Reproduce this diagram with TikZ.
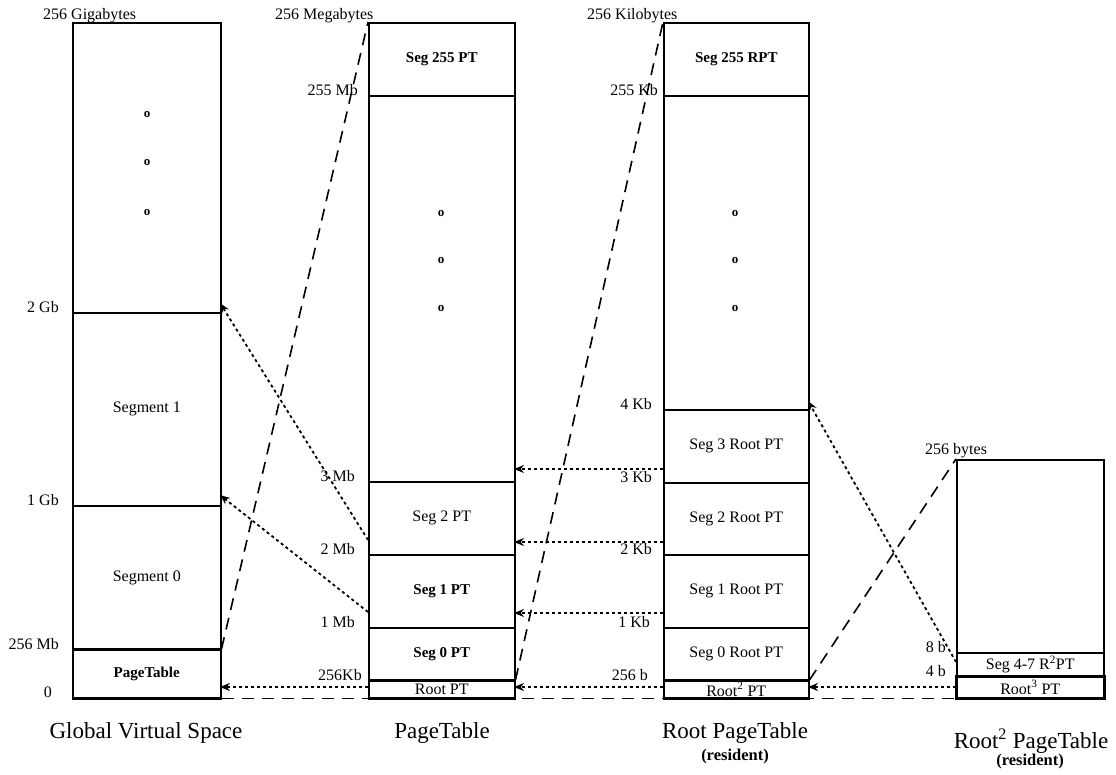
\documentclass[tikz,border=0pt]{standalone}
\usepackage{fontspec}
\setmainfont{Liberation Serif}
\usetikzlibrary{arrows.meta}
\begin{document}
\begin{tikzpicture}[x=1pt,y=-1pt,
  region/.style={draw, line width=1.5pt, rectangle, inner sep=0pt, anchor=north west, font=\fontsize{16}{18}\selectfont},
  boldtxt/.style={font=\bfseries\fontsize{15}{18}\selectfont},
  thickline/.style={line width=3pt},
  lbl/.style={anchor=base east, inner sep=0pt, font=\fontsize{16}{18}\selectfont},
  toplbl/.style={anchor=base west, inner sep=0pt, font=\fontsize{16}{18}\selectfont},
  dotmark/.style={font=\bfseries\fontsize{13}{14}\selectfont, inner sep=0pt},
  title/.style={font=\fontsize{23}{26}\selectfont, inner sep=0pt},
  resnote/.style={font=\bfseries\fontsize{16.5}{18}\selectfont, inner sep=0pt},
  ptr/.style={line width=1.8pt, dash pattern=on 3pt off 3pt, -{Stealth[length=10pt,width=8pt]}},
  link/.style={line width=1.6pt, dash pattern=on 12pt off 8pt},
]
\useasboundingbox (0,0) rectangle (1116,774);

% ---------- Global Virtual Space ----------
\node[region, minimum width=148pt, minimum height=290pt] (g1) at (72,22) {};
\node[region, minimum width=148pt, minimum height=193pt] (g2) at (72,312) {Segment 1};
\node[region, minimum width=148pt, minimum height=144pt] (g3) at (72,505) {Segment 0};
\node[region, boldtxt, minimum width=148pt, minimum height=48pt] (g4) at (72,649) {PageTable};
\draw[thickline] (g4.north west) -- (g4.north east);
\draw[thickline] (g4.south west) -- (g4.south east);
\node[dotmark] (gd1) at (147,114) {o};
\node[dotmark] (gd2) at (147,162) {o};
\node[dotmark] (gd3) at (147,212) {o};

% ---------- PageTable ----------
\node[region, boldtxt, minimum width=146pt, minimum height=73pt] (p1) at (368,22) {Seg 255 PT};
\node[region, minimum width=146pt, minimum height=386pt] (p2) at (368,95) {};
\node[region, minimum width=146pt, minimum height=73pt] (p3) at (368,481) {Seg 2 PT};
\node[region, boldtxt, minimum width=146pt, minimum height=73pt] (p4) at (368,554) {Seg 1 PT};
\node[region, boldtxt, minimum width=146pt, minimum height=53pt] (p5) at (368,627) {Seg 0 PT};
\node[region, minimum width=146pt, minimum height=17pt] (p6) at (368,680) {Root PT};
\draw[thickline] (p6.north west) -- (p6.north east);
\draw[line width=2.2pt] (p6.south west) -- (p6.south east);
\node[dotmark] (pd1) at (441,213) {o};
\node[dotmark] (pd2) at (441,260) {o};
\node[dotmark] (pd3) at (441,308) {o};

% ---------- Root PageTable ----------
\node[region, boldtxt, minimum width=145pt, minimum height=73pt] (r1) at (663,22) {Seg 255 RPT};
\node[region, minimum width=145pt, minimum height=314pt] (r2) at (663,95) {};
\node[region, minimum width=145pt, minimum height=73pt] (r3) at (663,409) {Seg 3 Root PT};
\node[region, minimum width=145pt, minimum height=72pt] (r4) at (663,482) {Seg 2 Root PT};
\node[region, minimum width=145pt, minimum height=73pt] (r5) at (663,554) {Seg 1 Root PT};
\node[region, minimum width=145pt, minimum height=53pt] (r6) at (663,627) {Seg 0 Root PT};
\node[region, minimum width=145pt, minimum height=17pt] (r7) at (663,680) {Root\textsuperscript{2} PT};
\draw[thickline] (r7.north west) -- (r7.north east);
\draw[line width=2.2pt] (r7.south west) -- (r7.south east);
\node[dotmark] (rd1) at (735,213) {o};
\node[dotmark] (rd2) at (735,260) {o};
\node[dotmark] (rd3) at (735,308) {o};

% ---------- Root^2 PageTable ----------
\node[region, minimum width=147pt, minimum height=193pt] (q1) at (956,459) {};
\node[region, minimum width=147pt, minimum height=24pt] (q2) at (956,652) {Seg 4-7 R\textsuperscript{2}PT};
\node[region, minimum width=147pt, minimum height=21pt] (q3) at (956,676) {Root\textsuperscript{3} PT};
\draw[line width=2.4pt] (q3.north west) rectangle (q3.south east);

% ---------- address labels ----------
\node[toplbl] (l256g) at (43,19) {256 Gigabytes};
\node[lbl] (l2g) at (59,312) {2 Gb};
\node[lbl] (l1g) at (59,505) {1 Gb};
\node[lbl] (l256m) at (59,649) {256 Mb};
\node[lbl] (l0) at (52,697) {0};

\node[toplbl] (l256mb) at (275,19) {256 Megabytes};
\node[lbl] (l255m) at (358,95) {255 Mb};
\node[lbl] (l3m) at (355,481) {3 Mb};
\node[lbl] (l2m) at (355,554) {2 Mb};
\node[lbl] (l1m) at (355,627) {1 Mb};
\node[lbl] (l256k) at (362,680) {256Kb};

\node[toplbl] (l256kb) at (587,19) {256 Kilobytes};
\node[lbl] (l255k) at (658,95) {255 Kb};
\node[lbl] (l4k) at (652,409) {4 Kb};
\node[lbl] (l3k) at (652,482) {3 Kb};
\node[lbl] (l2k) at (652,554) {2 Kb};
\node[lbl] (l1k) at (650,627) {1 Kb};
\node[lbl] (l256b) at (648,680) {256 b};

\node[toplbl] (l256by) at (925,454) {256 bytes};
\node[lbl] (l8b) at (946,652) {8 b};
\node[lbl] (l4b) at (946,676) {4 b};

% ---------- titles ----------
\node[title] (t1) at (146,733) {Global Virtual Space};
\node[title] (t2) at (442,733) {PageTable};
\node[title] (t3) at (735,733) {Root PageTable};
\node[resnote] (t3r) at (735,757) {(resident)};
\node[title] (t4) at (1031,741) {Root\textsuperscript{2} PageTable};
\node[resnote] (t4r) at (1030,762) {(resident)};

% ---------- dashed extent lines ----------
\draw[link] (g4.south east) -- (q3.south west);
\draw[link] (g4.north east) -- (p1.north west);
\draw[link] (p6.north east) -- (r1.north west);
\draw[link] (r7.north east) -- (q1.north west);

% ---------- pointer coordinates ----------
\coordinate (a1s) at (368,687);  \coordinate (a1e) at (220,687);
\coordinate (a2s) at (368,612);  \coordinate (a2e) at (220,495);
\coordinate (a3s) at (368,540);  \coordinate (a3e) at (220,303);
\coordinate (a4s) at (663,469);  \coordinate (a4e) at (514,469);
\coordinate (a5s) at (663,542);  \coordinate (a5e) at (514,542);
\coordinate (a6s) at (663,613);  \coordinate (a6e) at (514,613);
\coordinate (a7s) at (663,687);  \coordinate (a7e) at (514,687);
\coordinate (a8s) at (956,687);  \coordinate (a8e) at (808,687);
\coordinate (a9s) at (956,662);  \coordinate (a9e) at (808,401);

\draw[ptr] (a1s) -- (a1e);
\draw[ptr] (a2s) -- (a2e);
\draw[ptr] (a3s) -- (a3e);
\draw[ptr] (a4s) -- (a4e);
\draw[ptr] (a5s) -- (a5e);
\draw[ptr] (a6s) -- (a6e);
\draw[ptr] (a7s) -- (a7e);
\draw[ptr] (a8s) -- (a8e);
\draw[ptr] (a9s) -- (a9e);
\end{tikzpicture}
\end{document}
